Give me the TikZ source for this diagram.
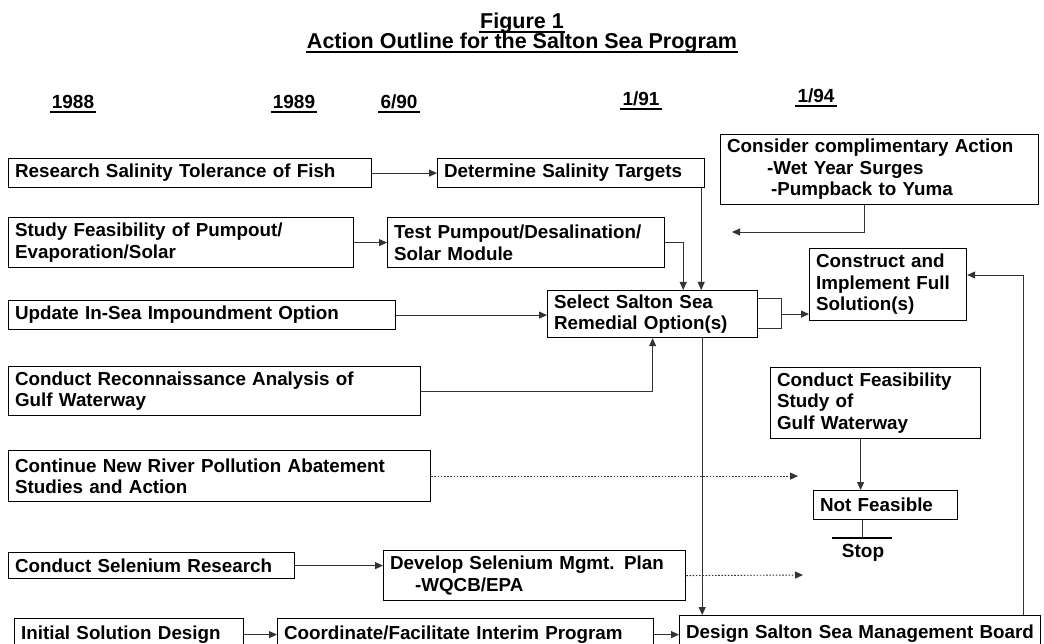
\documentclass[tikz,border=0pt]{standalone}
\usepackage{fontspec}
\setmainfont{Liberation Sans}
\usetikzlibrary{arrows.meta,calc,positioning}

\tikzset{
  box/.style 2 args={draw, line width=1.2pt, anchor=north west, align=left,
    inner xsep=6.5pt, inner ysep=0pt, text width=#1-13pt, minimum height=#2,
    font=\bfseries\fontsize{18.8}{21.5}\selectfont},
  head/.style={font=\bfseries\fontsize{21.5}{24}\selectfont, inner xsep=1pt, inner ysep=0pt, anchor=base},
  date/.style={font=\bfseries\fontsize{19}{21}\selectfont, inner xsep=2pt, inner ysep=0pt, anchor=base},
  link/.style={line width=0.9pt, black!80},
  arr/.style={-{Triangle[length=8pt,width=7pt]}},
  dots/.style={dash pattern=on 1.6pt off 1.6pt},
}

\begin{document}
\begin{tikzpicture}[x=1pt, y=-1pt]
	\clip (0,0) rectangle (1044,644);

	% title and years
	\node[head]	(fig)	at (522,29)	{Figure 1};
	\node[head]	(title)	at (522,49)	{Action Outline for the Salton Sea Program};
	\node[date]	(y88)	at (73,109)	{1988};
	\node[date]	(y89)	at (294,109)	{1989};
	\node[date]	(y90)	at (399,109)	{6/90};
	\node[date]	(y91)	at (641,106)	{1/91};
	\node[date]	(y94)	at (816,103)	{1/94};
	\foreach \n in {fig,title,y88,y89,y90,y91,y94}
		\draw[line width=1.2pt] ([yshift=-3pt]\n.base west) -- ([yshift=-3pt]\n.base east);

	% boxes
	\node[box={363pt}{29pt}]	(research)	at (8,158)	{Research Salinity Tolerance of Fish};
	\node[box={267pt}{29pt}]	(determine)	at (437,158)	{Determine Salinity Targets};
	\node[box={318pt}{70pt}]	(consider)	at (720,134)	{Consider complimentary Action\\\hspace*{40pt}-Wet Year Surges\\\hspace*{44pt}-Pumpback to Yuma};
	\node[box={345pt}{50pt}]	(study)		at (8,217)	{Study Feasibility of Pumpout/\\Evaporation/Solar};
	\node[box={277pt}{50pt}]	(test)		at (387,217)	{Test Pumpout/Desalination/\\Solar Module};
	\node[box={387pt}{29pt}]	(update)	at (8,300)	{Update In-Sea Impoundment Option};
	\node[box={210pt}{47pt}]	(select)	at (547,290)	{Select Salton Sea\\Remedial Option(s)};
	\node[box={157pt}{72pt}]	(construct)	at (809,248)	{Construct and\\Implement Full\\Solution(s)};
	\node[box={412pt}{49pt}]	(recon)		at (8,366)	{Conduct Reconnaissance Analysis of\\Gulf Waterway};
	\node[box={210pt}{71pt}]	(feas)		at (770,367)	{Conduct Feasibility\\Study of\\Gulf Waterway};
	\node[box={422pt}{51pt}]	(river)		at (8,450)	{Continue New River Pollution Abatement\\Studies and Action};
	\node[box={144pt}{29pt}]	(notfeas)	at (813,490)	{Not Feasible};
	\node[box={286pt}{26pt}]	(selres)	at (8,552)	{Conduct Selenium Research};
	\node[box={302pt}{50pt}]	(develop)	at (383,550)	{Develop Selenium Mgmt. Plan\\\hspace*{25pt}-WQCB/EPA};
	\node[box={229pt}{32pt}]	(initial)	at (14,618)	{Initial Solution Design};
	\node[box={376pt}{32pt}]	(coord)		at (277,618)	{Coordinate/Facilitate Interim Program};
	\node[box={361pt}{36pt}]	(design)	at (679,615)	{Design Salton Sea Management Board};
	\node[date] (stop) at (863,557) {Stop};

	\coordinate (wetend)	at (732,232);
	\coordinate (riverend)	at (798,477);
	\coordinate (selend)	at (803,575);
	\coordinate (stopbar)	at (862,538);

	% connectors
	\draw[link,arr]	(research) -- (determine);
	\draw[link,arr]	(study) -- (test);
	\draw[link,arr]	(update.east) -- (update.east -| select.west);
	\draw[link,arr]	(test.east) -| ([xshift=-22pt]determine.south east |- select.north);
	\draw[link,arr]	([xshift=-4pt]determine.south east) -- ([xshift=-4pt]determine.south east |- select.north);
	\draw[link,arr]	([xshift=-15pt]consider.south) |- (wetend);
	\draw[link]	([yshift=-8pt]select.north east) -| ([xshift=23pt,yshift=10pt]select.south east) -- ([yshift=10pt]select.south east);
	\draw[link,arr]	([xshift=23pt]select.east) -- (select.east -| construct.west);
	\draw[link,arr]	(recon.east) -| (select.south);
	\draw[link,arr]	([xshift=-56pt]select.south east) -- ([xshift=-56pt]select.south east |- design.north);
	\draw[link,arr]	([xshift=-18pt]design.north east) |- ([yshift=-27pt]construct.north east);
	\draw[link,arr]	([xshift=-15pt]feas.south) -- ([xshift=-15pt]feas.south |- notfeas.north);
	\draw[link]	(stopbar |- notfeas.south) -- (stopbar);
	\draw[line width=1.2pt]	([xshift=-30pt]stopbar) -- ([xshift=30pt]stopbar);
	\draw[link,dots,arr]	(river.east) -- (river.east -| riverend);
	\draw[link,dots,arr]	(develop.east) -- (selend);
	\draw[link,arr]	(selres.east) -- (selres.east -| develop.west);
	\draw[link,arr]	(initial) -- (coord);
	\draw[link,arr]	(coord.east) -- (coord.east -| design.west);
\end{tikzpicture}
\end{document}
